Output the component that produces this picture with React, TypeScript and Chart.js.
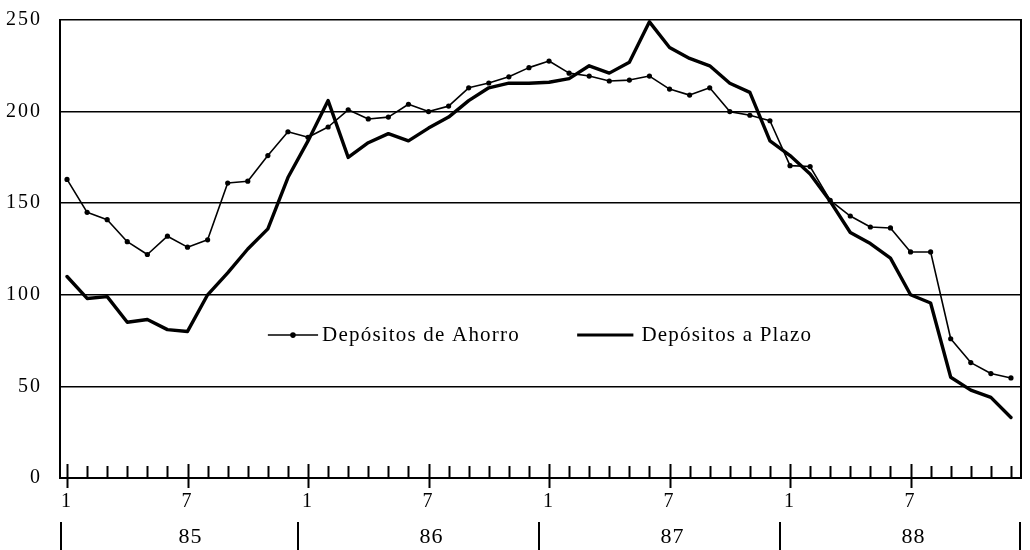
import React, { useEffect, useRef } from 'react';
import { Chart, registerables } from 'chart.js';

Chart.register(...registerables);

// Months of each year and year labels (1985-1988)
const monthsOfYear = ['1', '2', '3', '4', '5', '6', '7', '8', '9', '10', '11', '12'];
const years = ['85', '86', '87', '88'];
const tickLabels = ['1', '7'];
const yTicks = [0, 50, 100, 150, 200, 250];

// Depósitos de Ahorro (thin line with dots)
const ahorro = [
  163, 145, 141, 129, 122, 132, 126, 130, 161, 162, 176, 189,
  186, 191.6, 201, 196, 197, 204, 200, 203, 213, 215.6, 219, 224,
  227.6, 221, 219.4, 216.7, 217.2, 219.4, 212.3, 209, 213, 200, 198, 195,
  170.5, 170, 151.5, 143, 137, 136.5, 123.4, 123.4, 76, 63, 57, 54.6,
];

// Depósitos a Plazo (thick line)
const plazo = [
  110, 98, 99, 85, 86.5, 81, 80, 100, 112, 125, 136, 164,
  184, 206, 175, 183, 188, 184, 191, 197, 206, 213, 215.5, 215.5,
  216, 218, 225, 221, 227, 249, 235, 229, 225, 215.5, 210.5, 184,
  176, 166, 151, 134, 128, 120, 100, 95.5, 55, 48, 44, 33,
];

const legendLabels = ['Depósitos de Ahorro', 'Depósitos a Plazo'];

const categories = years.flatMap(() => monthsOfYear);
const FONT = "'Liberation Serif', 'Times New Roman', serif";

const decorPlugin = {
  id: 'decor',
  beforeDraw(chart: any) {
    (chart.ctx as any).letterSpacing = '2px';
  },
  afterDraw(chart: any) {
    const { ctx, chartArea, scales } = chart;
    const xs = scales.x;
    const ys = scales.y;
    ctx.save();
    ctx.strokeStyle = '#000';
    ctx.fillStyle = '#000';
    ctx.lineCap = 'butt';

    const seg = (x1: number, y1: number, x2: number, y2: number, w: number) => {
      ctx.lineWidth = w;
      ctx.beginPath();
      ctx.moveTo(x1, y1);
      ctx.lineTo(x2, y2);
      ctx.stroke();
    };

    // right border
    seg(chartArea.right, chartArea.top - 1, chartArea.right, chartArea.bottom + 1, 2);

    // month ticks
    categories.forEach((c, i) => {
      const x = Math.round(xs.getPixelForValue(i)) + 0.5;
      if (tickLabels.includes(c)) {
        seg(x, chartArea.bottom - 14, x, chartArea.bottom + 10, 2);
      } else {
        seg(x, chartArea.bottom - 12, x, chartArea.bottom, 2);
      }
    });

    // year separators and labels
    (ctx as any).letterSpacing = '1px';
    ctx.font = `22px ${FONT}`;
    ctx.textAlign = 'center';
    ctx.textBaseline = 'middle';
    for (let k = 0; k <= years.length; k++) {
      let x = xs.getPixelForValue(k * monthsOfYear.length - 0.5);
      x = Math.min(Math.max(x, chartArea.left + 1), chartArea.right - 1);
      seg(x, 522, x, 550, 2);
    }
    years.forEach((y, k) => {
      const x = xs.getPixelForValue(k * monthsOfYear.length + 6) + 3;
      ctx.fillText(y, x, 537);
    });

    // legend inside plot
    const ly = ys.getPixelForValue(78);
    (ctx as any).letterSpacing = '1.2px';
    ctx.font = `21px ${FONT}`;
    ctx.textAlign = 'left';
    // Ahorro
    const a1 = xs.getPixelForValue(10);
    const a2 = xs.getPixelForValue(12.5);
    seg(a1, ly, a2, ly, 1.5);
    ctx.beginPath();
    ctx.arc(xs.getPixelForValue(11.25), ly, 2.8, 0, Math.PI * 2);
    ctx.fill();
    ctx.fillText(legendLabels[0], xs.getPixelForValue(12.7), ly);
    // Plazo
    const p1 = xs.getPixelForValue(25.4);
    const p2 = xs.getPixelForValue(28.2);
    seg(p1, ly, p2, ly, 3);
    ctx.fillText(legendLabels[1], xs.getPixelForValue(28.6), ly);

    ctx.restore();
  },
};

export default function App() {
  const ref = useRef<HTMLCanvasElement | null>(null);

  useEffect(() => {
    if (!ref.current) return;
    const chart = new Chart(ref.current, {
      type: 'line',
      data: {
        datasets: [
          {
            label: legendLabels[0],
            data: ahorro.map((v, i) => ({ x: i, y: v })),
            borderColor: '#000',
            backgroundColor: '#000',
            borderWidth: 1.6,
            pointRadius: 2.6,
            pointBorderWidth: 0,
            pointBackgroundColor: '#000',
            borderJoinStyle: 'round',
            tension: 0,
          },
          {
            label: legendLabels[1],
            data: plazo.map((v, i) => ({ x: i, y: v })),
            borderColor: '#000',
            backgroundColor: '#000',
            borderWidth: 3.4,
            pointRadius: 0,
            borderJoinStyle: 'round',
            borderCapStyle: 'round',
            tension: 0,
          },
        ],
      },
      options: {
        animation: false,
        responsive: false,
        maintainAspectRatio: false,
        layout: { padding: { top: 20, right: 9, left: 0, bottom: 0 } },
        plugins: {
          legend: { display: false },
          tooltip: { enabled: false },
        },
        scales: {
          x: {
            type: 'linear',
            min: -0.35,
            max: 47.5,
            afterFit: (s: any) => {
              s.height = 72;
              s.paddingLeft = 0;
              s.paddingRight = 0;
            },
            afterBuildTicks: (s: any) => {
              s.ticks = categories.map((_, i) => ({ value: i }));
            },
            grid: { display: false, drawTicks: false },
            border: { display: true, color: '#000', width: 2 },
            ticks: {
              autoSkip: false,
              maxRotation: 0,
              padding: 12,
              color: '#000',
              font: { family: FONT, size: 20 },
              callback: (v: any) => {
                const n = Number(v);
                if (!Number.isInteger(n) || n < 0 || n >= categories.length) return '';
                const c = categories[n];
                return tickLabels.includes(c) ? c : '';
              },
            },
          },
          y: {
            min: 0,
            max: 250,
            afterFit: (s: any) => {
              s.width = 60;
              s.paddingTop = 0;
              s.paddingBottom = 0;
            },
            afterBuildTicks: (s: any) => {
              s.ticks = yTicks.map((v) => ({ value: v }));
            },
            grid: { color: '#000', lineWidth: 1.5, drawTicks: false },
            border: { display: true, color: '#000', width: 2 },
            ticks: {
              padding: 18,
              color: '#000',
              font: { family: FONT, size: 20 },
            },
          },
        },
      },
      plugins: [decorPlugin],
    } as any);
    return () => chart.destroy();
  }, []);

  return (
    <div style={{ position: 'fixed', left: 0, top: 0, width: 1030, height: 550, background: '#fff' }}>
      <canvas ref={ref} width={1030} height={550} />
    </div>
  );
}
